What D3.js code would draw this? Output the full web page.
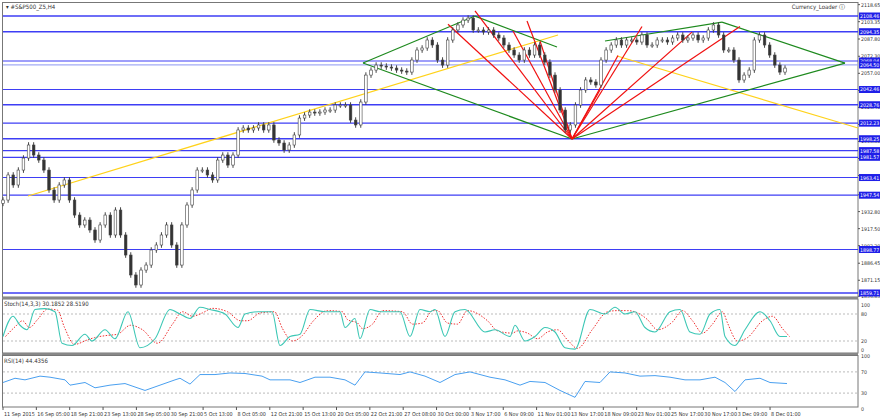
<!DOCTYPE html><html><head><meta charset="utf-8">
<script src="https://cdnjs.cloudflare.com/ajax/libs/d3/7.8.5/d3.min.js"></script>
<style>body{margin:0;background:#fff}svg{font-family:"DejaVu Sans Condensed","Liberation Sans",sans-serif}</style></head><body>
<svg id="c" width="880" height="420"></svg>
<script>
const closes=[1943.2,1965.7,1956.7,1970.1,1980.9,1992.6,1983.6,1979.1,1970.1,1952.2,1943.2,1956.7,1961.2,1943.2,1929.7,1920.8,1925.2,1916.3,1907.3,1920.8,1929.7,1911.8,1934.2,1911.8,1893.8,1875.9,1866.9,1880.3,1884.8,1898.3,1902.8,1911.8,1920.8,1902.8,1884.8,1920.8,1938.7,1952.2,1970.1,1970.1,1965.7,1961.2,1979.1,1983.6,1974.6,1983.6,2006.1,2007.9,2006.1,2007.9,2010.6,2006.1,2010.6,1997.1,1994.4,1988.1,1992.6,2001.6,2016.8,2019.5,2022.2,2021.3,2022.2,2024.0,2024.0,2028.5,2028.5,2028.5,2015.0,2010.6,2031.2,2055.4,2059.9,2064.4,2063.5,2062.6,2061.7,2059.9,2059.0,2058.1,2068.9,2077.9,2079.7,2086.9,2082.4,2068.9,2064.4,2086.9,2095.9,2100.4,2104.8,2106.6,2095.9,2095.9,2094.1,2095.9,2091.4,2088.7,2082.4,2077.9,2073.4,2068.9,2077.9,2073.4,2082.4,2073.4,2067.1,2055.4,2042.0,2024.0,2006.1,2010.6,2028.5,2042.0,2051.0,2049.2,2046.5,2068.9,2077.9,2082.4,2086.9,2082.4,2086.9,2086.9,2085.1,2091.4,2082.4,2082.4,2086.9,2086.9,2085.1,2088.7,2091.4,2086.9,2088.7,2091.4,2086.9,2088.7,2095.9,2100.4,2091.4,2077.9,2077.9,2068.9,2051.0,2055.4,2059.9,2086.9,2091.4,2082.4,2073.4,2064.4,2058.1,2061.7];
const hLevels=[2108.46,2094.35,2068.04,2064.50,2042.46,2028.76,2012.23,1998.25,1987.58,1981.57,1963.41,1947.54,1898.77,1859.71];
const priceTicks=[2118.65,2103.35,2087.80,2072.30,2057.00,2041.70,2026.40,2011.10,1995.80,1980.50,1965.20,1947.90,1932.80,1917.50,1902.20,1886.45,1871.15,1856.85];
const timeLabels=["11 Sep 2015","16 Sep 05:00","18 Sep 21:00","23 Sep 13:00","28 Sep 05:00","30 Sep 21:00","5 Oct 13:00","8 Oct 05:00","12 Oct 21:00","15 Oct 13:00","20 Oct 05:00","22 Oct 21:00","27 Oct 08:00","30 Oct 00:00","3 Nov 17:00","6 Nov 09:00","11 Nov 01:00","13 Nov 17:00","18 Nov 09:00","23 Nov 01:00","25 Nov 17:00","30 Nov 17:00","3 Dec 09:00","8 Dec 01:00"];
const yellowLines=[[[5,1946.8],[111,2091.4]],[[122.8,2072.5],[171,2007.9]]];
const greenLines=[[[72,2066.2],[94.4,2108.4]],[[94.4,2108.4],[110.8,2080.6]],[[72,2066.2],[113.8,1998]],[[120.4,2086],[143.8,2103]],[[143.8,2103],[168.4,2066.2]],[[113.8,1998],[168.4,2066.2]]];
const fanOrigin=[113.8,1998];
const fanTargets=[[89,2101],[94.4,2113],[102,2095],[104.8,2104],[107.4,2086],[119.4,2042],[123,2073],[127.8,2099],[137.8,2094],[147.4,2099]];
const stochIdx=[0,2,3.4,4.8,6.4,8.4,10.4,11.8,13.8,16.4,17.8,20.4,22.4,25,27.4,30.4,33.4,35.4,37.4,39.4,41.4,44.4,47,48.4,51,53.8,55.4,57.4,59.4,61.4,64.4,67.4,68.4,70.4,71.4,73.4,75.4,79.4,81.4,83.4,85.4,86.4,88.4,90.4,92.4,96.4,98.4,101.4,102.4,104.4,106.4,108.4,110.4,112.4,114.4,117.4,120.4,122.4,124.4,126.4,128.4,130.4,133.4,135.4,137.4,139.4,141.4,143.4,144.4,146.4,148.4,151.4,153.4,155.4,156.8];
const stochK=[30,75,55,45,90,92,85,15,10,35,20,45,25,85,5,25,90,80,70,95,90,80,50,80,85,85,10,30,35,90,85,85,50,70,25,90,85,85,30,90,85,90,30,85,90,40,45,30,55,20,30,50,40,5,2,90,80,95,80,85,50,40,85,90,40,35,80,90,30,10,45,85,65,30,30];
const rsiIdx=[0,2.4,4.4,7.4,9.4,12.4,13.4,16.4,18.4,21.4,24.4,28.4,31.4,34.4,35.4,37.4,39.4,42.4,45.4,48.4,51.8,53.4,57.4,59.4,62.4,65.4,68.4,70.4,72.4,75.4,79.4,81.4,84.4,87.4,90.4,93.4,97.4,100.4,103.4,105.4,108.4,111.4,114.4,116.4,119.4,121.4,124.4,127.4,130.4,133.4,136.4,139.4,142.4,144.4,146.4,148.4,151.4,153.4,156.8];
const rsiVal=[50,58,55,62,60,55,45,50,40,45,48,35,45,55,58,47,65,65,68,67,62,55,55,50,60,60,55,45,70,68,65,70,62,50,65,70,60,55,45,52,50,35,22,52,50,70,68,62,63,60,55,55,60,50,33,55,58,50,48];

const svg=d3.select("#c");
const L=3,R=858;
const x=d3.scaleLinear().domain([0,171]).range([L,R]);
const n=closes.length;
const xc=d3.scaleLinear().domain([0,n-1]).range([x(0),x(156.4)]);
const y=d3.scaleLinear().domain([1859.71,2108.46]).range([293,16]);
const ys=d3.scaleLinear().domain([0,100]).range([350,305]);
const yr=d3.scaleLinear().domain([0,100]).range([409,356]);
const fr=(a,b)=>svg.append("rect").attr("x",2.5).attr("y",a).attr("width",R-2.5).attr("height",b-a).attr("fill","none").attr("stroke","#777");
fr(2.5,297);fr(299,353);fr(355.5,407);
svg.append("line").attr("x1",2).attr("x2",R).attr("y1",298).attr("y2",298).attr("stroke","#888").attr("stroke-width",2);
svg.append("line").attr("x1",2).attr("x2",R).attr("y1",354).attr("y2",354).attr("stroke","#888").attr("stroke-width",2);
const FS=5.2;
svg.append("g").selectAll("text").data(priceTicks).join("text").attr("x",R+3).attr("y",d=>y(d)+2).attr("font-size",FS).attr("fill","#333").text(d=>d.toFixed(2));
svg.append("g").selectAll("line").data(priceTicks).join("line").attr("x1",R).attr("x2",R+2).attr("y1",d=>y(d)).attr("y2",d=>y(d)).attr("stroke","#555");
svg.append("g").selectAll("line").data(hLevels).join("line").attr("x1",L).attr("x2",R).attr("y1",d=>y(d)).attr("y2",d=>y(d)).attr("stroke",(d,i)=>i==3?"#9aa3f5":"#2a2af5").attr("stroke-width",d=>[2108.46,2094.35,2028.76,1998.25,1859.71].includes(d)?1.6:1.2).attr("opacity",.9);
const lp=p=>[x(p[0]),y(p[1])];
const drawSeg=(segs,c)=>svg.append("g").selectAll("line").data(segs).join("line").attr("x1",d=>lp(d[0])[0]).attr("y1",d=>lp(d[0])[1]).attr("x2",d=>lp(d[1])[0]).attr("y2",d=>lp(d[1])[1]).attr("stroke",c).attr("stroke-width",1.2);
drawSeg(yellowLines,"#ffd21a");
drawSeg(greenLines,"#1e8a1e");
drawSeg(fanTargets.map(t=>[fanOrigin,t]),"#f01010");
const cg=svg.append("g");
closes.forEach((c,i)=>{
  const o=i?closes[i-1]:c-3; const hi=Math.max(o,c)+2.5, lo=Math.min(o,c)-2.5;
  const cx=xc(i);
  cg.append("line").attr("x1",cx).attr("x2",cx).attr("y1",y(hi)).attr("y2",y(lo)).attr("stroke","#444");
  cg.append("rect").attr("x",cx-1.3).attr("width",2.6).attr("y",y(Math.max(o,c))).attr("height",Math.max(1,Math.abs(y(o)-y(c)))).attr("fill",c>=o?"#fff":"#333").attr("stroke","#444").attr("stroke-width",.6);
});
const lb=svg.append("g");
hLevels.forEach(d=>{
  lb.append("rect").attr("x",R+1).attr("y",y(d)-3.5).attr("width",21).attr("height",7).attr("fill","#1f1fe8");
  lb.append("text").attr("x",R+2).attr("y",y(d)+2).attr("font-size",FS).attr("fill","#fff").text(d.toFixed(2));
});
[20,80].forEach(v=>svg.append("line").attr("x1",L).attr("x2",R).attr("y1",ys(v)).attr("y2",ys(v)).attr("stroke","#bbb").attr("stroke-dasharray","2,2"));
const kpts=stochIdx.map((v,i)=>[v,stochK[i]]);
const dpts=kpts.map((p,i)=>[p[0]+0.5,d3.mean(stochK.slice(Math.max(0,i-1),i+1))]);
svg.append("path").attr("d",d3.line().x(d=>x(d[0])).y(d=>ys(d[1])).curve(d3.curveMonotoneX)(dpts)).attr("fill","none").attr("stroke","#f03030").attr("stroke-dasharray","1.5,1.5");
svg.append("path").attr("d",d3.line().x(d=>x(d[0])).y(d=>ys(d[1])).curve(d3.curveMonotoneX)(kpts)).attr("fill","none").attr("stroke","#3cc7b5").attr("stroke-width",1.1);
[[100,"100"],[80,"80"],[20,"20"],[0,"0"]].forEach(t=>svg.append("text").attr("x",R+3).attr("y",ys(t[0])+2).attr("font-size",FS).attr("fill","#333").text(t[1]));
svg.append("text").attr("x",4).attr("y",306).attr("font-size",6).attr("fill","#333").text("Stoch(14,3,3) 30.1852 28.5190");
[30,70].forEach(v=>svg.append("line").attr("x1",L).attr("x2",R).attr("y1",yr(v)).attr("y2",yr(v)).attr("stroke","#bbb").attr("stroke-dasharray","2,2"));
svg.append("path").attr("d",d3.line().x((d,i)=>x(rsiIdx[i])).y(d=>yr(d))(rsiVal)).attr("fill","none").attr("stroke","#4aa0f0");
[[100,"100"],[70,"70"],[30,"30"],[0,"0"]].forEach(t=>svg.append("text").attr("x",R+3).attr("y",yr(t[0])+2).attr("font-size",FS).attr("fill","#333").text(t[1]));
svg.append("text").attr("x",4).attr("y",363).attr("font-size",6).attr("fill","#333").text("RSI(14) 44.4356");
timeLabels.forEach((t,i)=>{const tx=x(i*6.67);
  svg.append("line").attr("x1",tx).attr("x2",tx).attr("y1",407).attr("y2",410).attr("stroke","#555");
  svg.append("text").attr("x",tx+1).attr("y",416).attr("font-size",5.4).attr("fill","#333").text(t);});
svg.append("text").attr("x",6).attr("y",9).attr("font-size",6).attr("fill","#333").text("▾ #S&P500_Z5,H4");
svg.append("text").attr("x",845).attr("y",9).attr("text-anchor","end").attr("font-size",6).attr("fill","#333").text("Currency_Loader ⓘ");
</script></body></html>
